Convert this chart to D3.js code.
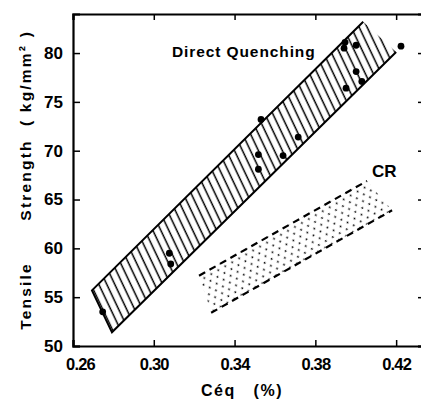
<!DOCTYPE html>
<html>
<head>
<meta charset="utf-8">
<script src="https://cdn.jsdelivr.net/npm/d3@7"></script>
<style>
  body { margin: 0; background: #fff; }
  svg { display: block; }
  text { font-family: "Liberation Sans", Arial, sans-serif; fill: #000; }
</style>
</head>
<body>
<div id="chart"></div>
<script>
// tick values
var xTicks = [0.26, 0.30, 0.34, 0.38, 0.42];
var yTicks = [50, 55, 60, 65, 70, 75, 80];

// measured points, direct quenching
var ceq = [0.2747, 0.3077, 0.3084, 0.3531, 0.3518, 0.3518, 0.3640, 0.3715,
           0.3947, 0.3942, 0.4002, 0.4002, 0.4030, 0.3952, 0.4224];
var strength = [53.5, 59.5, 58.4, 73.2, 69.6, 68.1, 69.5, 71.4,
                81.1, 80.5, 80.8, 78.1, 77.1, 76.4, 80.7];

// scatter band corners: top-left, top-right, bottom-right, bottom-left
var dqBandX = [0.2694, 0.4037, 0.4200, 0.2793];
var dqBandY = [55.7, 83.2, 80.1, 51.4];
var crBandX = [0.3224, 0.4056, 0.4180, 0.3284];
var crBandY = [57.2, 66.9, 63.9, 53.4];

var svgWidth = 421, svgHeight = 401;
var margin = {top: 14, left: 73};
var width = 350, height = 332;

var svg = d3.select("#chart").append("svg")
    .attr("width", svgWidth)
    .attr("height", svgHeight);

var x = d3.scaleLinear().domain([0.26, 0.4333]).range([margin.left, margin.left + width]);
var y = d3.scaleLinear().domain([50, 84]).range([margin.top + height, margin.top]);

function corners(xs, ys) {
    return xs.map((d, i) => [x(d), y(ys[i])]);
}
var dq = corners(dqBandX, dqBandY);
var cr = corners(crBandX, crBandY);

// hatch direction follows the left edge of the band, dots follow the CR band
var edgeAngle = Math.atan2(dq[3][1] - dq[0][1], dq[3][0] - dq[0][0]) * 180 / Math.PI;
var crAngle = Math.atan2(cr[1][1] - cr[0][1], cr[1][0] - cr[0][0]) * 180 / Math.PI;

var defs = svg.append("defs");
var hatch = defs.append("pattern")
    .attr("id", "hatch")
    .attr("patternUnits", "userSpaceOnUse")
    .attr("width", 7.2)
    .attr("height", 20)
    .attr("patternTransform", `rotate(${edgeAngle - 90})`);
hatch.append("line")
    .attr("x1", 3).attr("x2", 3)
    .attr("y1", 0).attr("y2", 20)
    .attr("stroke", "#000")
    .attr("stroke-width", 1.5);

var stipple = defs.append("pattern")
    .attr("id", "stipple")
    .attr("patternUnits", "userSpaceOnUse")
    .attr("width", 8)
    .attr("height", 11)
    .attr("patternTransform", `rotate(${crAngle})`);
stipple.append("circle").attr("cx", 1.5).attr("cy", 1.5).attr("r", 0.9);
stipple.append("circle").attr("cx", 5.5).attr("cy", 7).attr("r", 0.9);

// direct quenching band
svg.append("path")
    .attr("d", "M" + dq.join("L") + "Z")
    .attr("fill", "url(#hatch)");
svg.append("path")
    .attr("d", d3.line()([dq[1], dq[0], dq[3], dq[2]]))
    .attr("fill", "none")
    .attr("stroke", "#000")
    .attr("stroke-width", 2);

// CR band
svg.append("path")
    .attr("d", "M" + cr.join("L") + "Z")
    .attr("fill", "url(#stipple)");
svg.selectAll(".crEdge")
    .data([[cr[0], cr[1]], [cr[3], cr[2]]])
    .join("path")
    .attr("class", "crEdge")
    .attr("d", d => d3.line()(d))
    .attr("fill", "none")
    .attr("stroke", "#000")
    .attr("stroke-width", 2.2)
    .attr("stroke-dasharray", "7,5");

svg.selectAll(".dot")
    .data(ceq)
    .join("circle")
    .attr("class", "dot")
    .attr("cx", d => x(d))
    .attr("cy", (d, i) => y(strength[i]))
    .attr("r", 3.4)
    .attr("fill", "#000");

// axes with inward ticks on all four sides
var bottomAxis = d3.axisBottom(x).tickValues(xTicks).tickSize(-6).tickFormat(d3.format(".2f"));
var topAxis = d3.axisTop(x).tickValues(xTicks).tickSize(-6).tickFormat("");
var leftAxis = d3.axisLeft(y).tickValues(yTicks).tickSize(-7).tickFormat(d3.format("d"));
var rightAxis = d3.axisRight(y).tickValues(yTicks).tickSize(-5).tickFormat("");

var gx = svg.append("g")
    .attr("transform", `translate(0,${margin.top + height})`)
    .call(bottomAxis);
gx.selectAll("text")
    .attr("y", 24)
    .attr("dy", 0)
    .attr("dx", d => d === 0.26 ? 7 : 0)
    .style("font-size", "16.5px")
    .style("font-weight", "bold")
    .style("letter-spacing", "-0.8px");

svg.append("g")
    .attr("transform", `translate(0,${margin.top})`)
    .call(topAxis);

var gy = svg.append("g")
    .attr("transform", `translate(${margin.left},0)`)
    .call(leftAxis);
gy.selectAll("text")
    .attr("x", -10)
    .style("font-size", "17px")
    .style("font-weight", "bold");

svg.append("g")
    .attr("transform", `translate(${margin.left + width},0)`)
    .call(rightAxis);

svg.selectAll(".domain").attr("stroke-width", 2.2).attr("stroke", "#000");
svg.selectAll(".tick line").attr("stroke-width", 1.5).attr("stroke", "#000");

// labels
svg.append("text")
    .attr("x", 172)
    .attr("y", 57)
    .style("font-size", "15.5px")
    .style("font-weight", "bold")
    .style("letter-spacing", "0.9px")
    .text("Direct Quenching");

svg.append("text")
    .attr("x", 372)
    .attr("y", 177)
    .style("font-size", "17px")
    .style("font-weight", "bold")
    .text("CR");

svg.append("text")
    .attr("x", 242)
    .attr("y", 396)
    .attr("text-anchor", "middle")
    .style("font-size", "16px")
    .style("font-weight", "bold")
    .style("letter-spacing", "1.5px")
    .style("white-space", "pre")
    .text("Céq   (%)");

var yLabel = [["Tensile", 296], ["Strength", 180], ["( kg/mm² )", 78]];
svg.selectAll(".ylab")
    .data(yLabel)
    .join("text")
    .attr("class", "ylab")
    .attr("transform", d => `translate(31,${d[1]}) rotate(-90)`)
    .attr("text-anchor", "middle")
    .style("font-size", "15.5px")
    .style("font-weight", "bold")
    .style("letter-spacing", "2.2px")
    .style("white-space", "pre")
    .text(d => d[0]);
</script>
</body>
</html>
